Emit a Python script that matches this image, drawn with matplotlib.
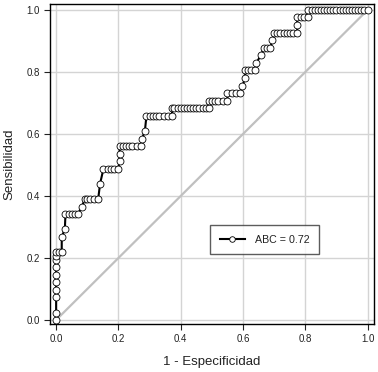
import matplotlib
matplotlib.use("Agg")
import matplotlib.pyplot as plt

plt.rcParams['font.family'] = ['Liberation Sans', 'DejaVu Sans']

# ROC points (1 - especificidad, sensibilidad)
fpr = [0.0, 0.0, 0.0, 0.0, 0.0, 0.0, 0.0, 0.0, 0.0, 0.0,
       0.01, 0.018,
       0.018, 0.028,
       0.03, 0.04, 0.05, 0.06, 0.07,
       0.082,
       0.093, 0.10, 0.11, 0.12, 0.135,
       0.141,
       0.152, 0.165, 0.175, 0.187, 0.199,
       0.204, 0.204, 0.204,
       0.215, 0.225, 0.235, 0.245, 0.26, 0.272,
       0.276, 0.285,
       0.29, 0.30, 0.31, 0.32, 0.33, 0.345, 0.36, 0.372,
       0.372, 0.38, 0.39, 0.40, 0.41, 0.42, 0.43, 0.44, 0.45, 0.46, 0.47, 0.48, 0.49,
       0.49, 0.50, 0.51, 0.52, 0.535, 0.55,
       0.55, 0.565, 0.577, 0.59,
       0.598, 0.607,
       0.607, 0.617, 0.627, 0.638,
       0.643, 0.657,
       0.668, 0.678, 0.688,
       0.694,
       0.70, 0.71, 0.72, 0.73, 0.74, 0.75, 0.76, 0.774,
       0.774,
       0.774, 0.785, 0.797, 0.808,
       0.808, 0.82, 0.83, 0.84, 0.85, 0.86, 0.87, 0.88, 0.89, 0.90,
       0.91, 0.92, 0.93, 0.94, 0.95, 0.96, 0.97, 0.98, 0.99, 1.0]
tpr = [0.0, 0.024, 0.073, 0.098, 0.122, 0.146, 0.171, 0.195, 0.207, 0.22,
       0.22, 0.22,
       0.268, 0.293,
       0.341, 0.341, 0.341, 0.341, 0.341,
       0.366,
       0.39, 0.39, 0.39, 0.39, 0.39,
       0.439,
       0.488, 0.488, 0.488, 0.488, 0.488,
       0.512, 0.537, 0.561,
       0.561, 0.561, 0.561, 0.561, 0.561, 0.561,
       0.585, 0.61,
       0.659, 0.659, 0.659, 0.659, 0.659, 0.659, 0.659, 0.659,
       0.683, 0.683, 0.683, 0.683, 0.683, 0.683, 0.683, 0.683, 0.683, 0.683, 0.683, 0.683, 0.683,
       0.707, 0.707, 0.707, 0.707, 0.707, 0.707,
       0.732, 0.732, 0.732, 0.732,
       0.756, 0.78,
       0.805, 0.805, 0.805, 0.805,
       0.829, 0.854,
       0.878, 0.878, 0.878,
       0.902,
       0.927, 0.927, 0.927, 0.927, 0.927, 0.927, 0.927, 0.927,
       0.951,
       0.976, 0.976, 0.976, 0.976,
       1.0, 1.0, 1.0, 1.0, 1.0, 1.0, 1.0, 1.0, 1.0, 1.0,
       1.0, 1.0, 1.0, 1.0, 1.0, 1.0, 1.0, 1.0, 1.0, 1.0]
auc_label = "ABC = 0.72"
ticks = [0.0, 0.2, 0.4, 0.6, 0.8, 1.0]
tick_labels = ["0.0", "0.2", "0.4", "0.6", "0.8", "1.0"]

fig = plt.figure(figsize=(3.78, 3.72), dpi=100)
ax = fig.add_axes([0.132, 0.129, 0.857, 0.860])

ax.set_xlim(-0.02, 1.02)
ax.set_ylim(-0.013, 1.019)
ax.set_xticks(ticks)
ax.set_yticks(ticks)
ax.set_xticklabels(tick_labels)
ax.set_yticklabels(tick_labels)
ax.grid(True, color='#d4d4d4', linewidth=1.0)
ax.set_axisbelow(True)

ax.plot([0, 1], [0, 1], color='#c0c0c0', linewidth=1.6, zorder=2)
ax.plot(fpr, tpr, color='black', linewidth=1.5, marker='o', markersize=5,
        markerfacecolor='white', markeredgecolor='black', markeredgewidth=0.6,
        label=auc_label, zorder=3)

ax.tick_params(axis='both', labelsize=7, length=4, width=0.8, color='#222222',
               labelcolor='#222222', pad=3)
for s in ax.spines.values():
    s.set_linewidth(1.0)
    s.set_color('black')

ax.set_xlabel("1 - Especificidad", fontsize=9.5, color='#222222', labelpad=9)
ax.set_ylabel("Sensibilidad", fontsize=9.5, color='#222222', labelpad=8)

leg = ax.legend(loc='lower left', bbox_to_anchor=(0.494, 0.218), borderaxespad=0,
                fontsize=7.7, frameon=True, fancybox=False, handlelength=2.4,
                borderpad=0.9, handletextpad=0.9, markerscale=0.8)
leg.get_frame().set_edgecolor('#333333')
leg.get_frame().set_linewidth(1.0)
for t in leg.get_texts():
    t.set_color('#222222')

fig.savefig("out.png", dpi=100)
